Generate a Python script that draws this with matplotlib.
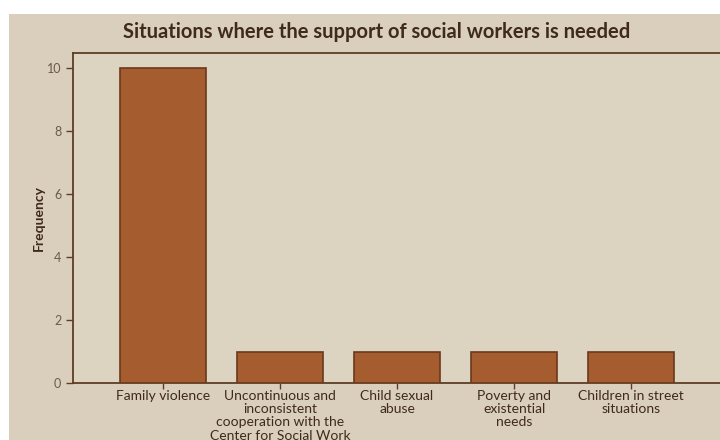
import matplotlib
matplotlib.use("Agg")
import matplotlib.pyplot as plt
from matplotlib.patches import Rectangle

categories = ["Family violence",
              "Uncontinuous and\ninconsistent\ncooperation with the\nCenter for Social Work",
              "Child sexual\nabuse",
              "Poverty and\nexistential\nneeds",
              "Children in street\nsituations"]
values = [10, 1, 1, 1, 1]
yticks = [0, 2, 4, 6, 8, 10]

bg = "#d9cfbc"
text_dark = "#3f2a1c"
spine_c = "#5e3d25"

plt.rcParams['font.family'] = ['Lato', 'DejaVu Sans']

fig = plt.figure(figsize=(7.2, 4.4), dpi=100)
fig.patch.set_facecolor("white")
fig.add_artist(Rectangle((9/720, 0), 1 - 9/720, 1 - 14/440, transform=fig.transFigure,
                         facecolor=bg, edgecolor="none", zorder=-10))

ax = fig.add_axes([73/720, 1 - 383/440, 1 - 73/720, (383 - 53)/440])
ax.set_facecolor("#dcd3c1")
x = list(range(len(categories)))
ax.bar(x, values, width=0.74, color="#a55c2e", edgecolor="#6a391c", linewidth=1.2, zorder=3)

ax.set_xlim(-0.769, 4.76)
ax.set_ylim(0, 10.48)
ax.set_yticks(yticks)
ax.set_xticks(x)
ax.set_xticklabels(categories, fontsize=10, color=text_dark, linespacing=1.12)
ax.tick_params(axis='y', labelsize=9, colors="#6a5a4c", length=5, width=1, direction='out')
ax.tick_params(axis='x', length=4, width=1, color=spine_c, direction='out', pad=1)
ax.tick_params(axis='y', color=spine_c)

for s in ['left', 'bottom', 'top']:
    ax.spines[s].set_color(spine_c)
    ax.spines[s].set_linewidth(1.3)
ax.spines['right'].set_visible(False)

ax.set_ylabel("Frequency", fontsize=10, fontweight='bold', color=text_dark, labelpad=1)
fig.text(377/720, 1 - 32/440, "Situations where the support of social workers is needed",
         ha='center', va='center', fontsize=14.5, fontweight='bold', color=text_dark)

fig.savefig("out.png", dpi=100, facecolor=fig.get_facecolor())
